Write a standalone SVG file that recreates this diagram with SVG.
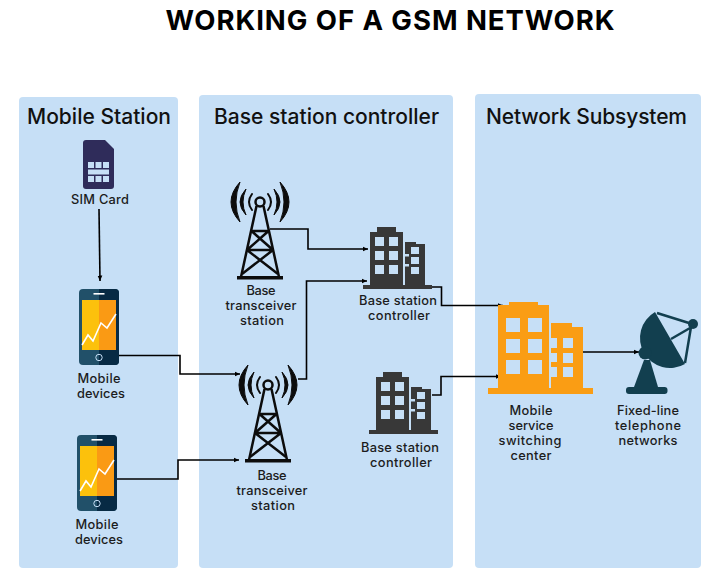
<svg xmlns="http://www.w3.org/2000/svg" width="720" height="577" viewBox="0 0 720 577">
<style>
.panel{fill:#c6dff6}
.t{font-family:"Inter","Noto Sans","DejaVu Sans",sans-serif;font-size:12.8px;font-weight:500;fill:#1c1c1c;text-anchor:middle}
.h{font-family:"Inter","Noto Sans","DejaVu Sans",sans-serif;font-size:21px;font-weight:500;fill:#111;text-anchor:middle}
.title{font-family:"Inter","Noto Sans","DejaVu Sans",sans-serif;font-size:27.5px;font-weight:700;fill:#000;text-anchor:middle}
.c{fill:none;stroke:#000;stroke-width:1.6}
.a{marker-end:url(#arrow)}
.tw{fill:none;stroke:#0c0c0c;stroke-width:2.5}
.wv{fill:#0c0c0c;stroke:#0c0c0c;stroke-width:1;stroke-linejoin:round}
.win{fill:#c6dff6}
</style>
<defs>
<marker id="arrow" markerUnits="userSpaceOnUse" markerWidth="7" markerHeight="7" refX="5.5" refY="3" orient="auto">
<path d="M0,0.6L5.5,3L0,5.4z" fill="#000"/>
</marker>
<symbol id="tower" overflow="visible" width="1" height="1">
<circle cx="0" cy="0" r="4.5" class="tw"/>
<path class="tw" d="M-3.5,4L-19,75M3.5,4L19,75"/>
<path class="tw" d="M-8.5,29L8.5,29M-8.5,29L13,48M8.500,29L-13,48M-13,48L13,48M-13,48L18,72M13,48L-18,72"/>
<path d="M-23,74H23V77.500H-23z" fill="#0c0c0c"/>
<path fill="none" stroke="#0c0c0c" stroke-width="2" stroke-linecap="round" d="M-8,-8Q-14,0-8,8M8,-8Q14,0 8,8"/>
<path class="wv" d="M-14,-13Q-26,0-14,13Q-20,0-14,-13zM14,-13Q26,0 14,13Q20,0 14,-13z"/>
<path class="wv" d="M-20,-20Q-38,0-20,20Q-28,0-20,-20zM20,-20Q38,0 20,20Q28,0 20,-20z"/>
</symbol>
<symbol id="bld" overflow="visible" width="1" height="1">
<path d="M0,58V5H7V0H26V5H33V58zM35,58V15H46V17H55V58z" fill="#383838"/>
<path d="M-7,58H62V62H-7z" fill="#383838"/>
<g class="win">
<rect x="5" y="10" width="9" height="9"/><rect x="19" y="10" width="9" height="9"/>
<rect x="5" y="24" width="9" height="9"/><rect x="19" y="24" width="9" height="9"/>
<rect x="5" y="38" width="9" height="9"/><rect x="19" y="38" width="9" height="9"/>
<rect x="41" y="20" width="8" height="7"/><rect x="41" y="30" width="8" height="7"/><rect x="41" y="40" width="8" height="7"/>
<rect x="35" y="27" width="4" height="2.500"/><rect x="35" y="37" width="4" height="2.500"/>
</g>
</symbol>
<symbol id="phone" overflow="visible" width="1" height="1">
<rect width="40" height="76" rx="4" fill="#215069"/>
<path d="M20,0H36a4,4 0 0 1 4,4V72a4,4 0 0 1-4,4H20z" fill="#072a44"/>
<rect x="3" y="11" width="17" height="50" fill="#fcc10c"/>
<rect x="20" y="11" width="17" height="50" fill="#fa9a14"/>
<path d="M3,56L9,46L14,52L22,34L28,39L37,25" fill="none" stroke="#fff" stroke-width="1.600"/>
<rect x="14.500" y="4" width="11" height="1.600" fill="#fff"/>
<circle cx="20" cy="68.500" r="3.200" fill="none" stroke="#c6dff6" stroke-width="1"/>
</symbol>
</defs>

<text x="390" y="30" class="title" textLength="449" lengthAdjust="spacing">WORKING OF A GSM NETWORK</text>

<rect class="panel" x="19" y="97" width="159" height="471" rx="4"/>
<rect class="panel" x="199" y="95" width="254" height="473" rx="4"/>
<rect class="panel" x="475" y="94" width="226" height="474" rx="4"/>
<text class="h" x="99" y="124" textLength="144" lengthAdjust="spacing">Mobile Station</text>
<text class="h" x="326.500" y="124" textLength="225" lengthAdjust="spacing">Base station controller</text>
<text class="h" x="586.500" y="124" textLength="201" lengthAdjust="spacing">Network Subsystem</text>

<g id="connectors">
<path class="c a" d="M99,209L100,281"/>
<path class="c a" d="M119,355.500H180V374H240"/>
<path class="c a" d="M117,479H178V460H239"/>
<path class="c a" d="M270,229H308V249H368"/>
<path class="c a" d="M298,379H306.500V281H367"/>
<path class="c a" d="M432,287H441.500V305.500H503"/>
<path class="c a" d="M432,395H441V376.500H501"/>
<path class="c a" d="M583,352H639"/>
</g>

<g id="sim-card">
<path d="M86,140H105L114,149V186a3,3 0 0 1-3,3H86a3,3 0 0 1-3-3V143a3,3 0 0 1 3-3z" fill="#2f2c5a"/>
<g fill="#c6dff6">
<rect x="88" y="162" width="6" height="6"/><rect x="95.500" y="162" width="6" height="6"/><rect x="103" y="162" width="6" height="6"/>
<rect x="88" y="169.500" width="21" height="5"/>
<rect x="88" y="176" width="6" height="6"/><rect x="95.500" y="176" width="6" height="6"/><rect x="103" y="176" width="6" height="6"/>
</g>
<text class="t" x="100" y="204" textLength="58" lengthAdjust="spacing">SIM Card</text>
</g>

<g id="mobile-1">
<use href="#phone" x="79" y="289"/>
<text class="t" x="99" y="383" textLength="43" lengthAdjust="spacing">Mobile</text>
<text class="t" x="101" y="398" textLength="48" lengthAdjust="spacing">devices</text>
</g>

<g id="mobile-2">
<use href="#phone" x="77" y="435"/>
<text class="t" x="97" y="529" textLength="43" lengthAdjust="spacing">Mobile</text>
<text class="t" x="99" y="544" textLength="48" lengthAdjust="spacing">devices</text>
</g>

<g id="bts-1">
<use href="#tower" x="260" y="202"/>
<text class="t" x="261" y="295" textLength="29" lengthAdjust="spacing">Base</text>
<text class="t" x="261" y="310" textLength="71" lengthAdjust="spacing">transceiver</text>
<text class="t" x="262" y="325" textLength="44" lengthAdjust="spacing">station</text>
</g>

<g id="bts-2">
<use href="#tower" x="268" y="385"/>
<text class="t" x="272" y="480" textLength="29" lengthAdjust="spacing">Base</text>
<text class="t" x="272" y="495" textLength="71" lengthAdjust="spacing">transceiver</text>
<text class="t" x="273" y="510" textLength="44" lengthAdjust="spacing">station</text>
</g>

<g id="bsc-1">
<use href="#bld" x="370" y="227"/>
<text class="t" x="398" y="305" textLength="78" lengthAdjust="spacing">Base station</text>
<text class="t" x="399" y="320" textLength="62" lengthAdjust="spacing">controller</text>
</g>

<g id="bsc-2">
<use href="#bld" x="376" y="372"/>
<text class="t" x="400" y="452" textLength="78" lengthAdjust="spacing">Base station</text>
<text class="t" x="401" y="467" textLength="62" lengthAdjust="spacing">controller</text>
</g>

<g id="msc">
<path d="M498,388V305H509V302H538V305H549V388zM551,388V323H572V327H583V388z" fill="#fa9d14"/>
<path d="M488,388H593V394H488z" fill="#fa9d14"/>
<g class="win">
<rect x="506" y="318" width="14" height="14"/><rect x="528" y="318" width="14" height="14"/>
<rect x="506" y="339" width="14" height="14"/><rect x="528" y="339" width="14" height="14"/>
<rect x="506" y="360" width="14" height="14"/><rect x="528" y="360" width="14" height="14"/>
<rect x="563" y="338" width="10" height="10"/><rect x="563" y="353" width="10" height="10"/><rect x="563" y="367" width="10" height="10"/>
<rect x="551" y="338" width="6" height="10"/><rect x="551" y="353" width="6" height="9"/><rect x="551" y="367" width="6" height="10"/>
</g>
<text class="t" x="531" y="415" textLength="43" lengthAdjust="spacing">Mobile</text>
<text class="t" x="531" y="430" textLength="45" lengthAdjust="spacing">service</text>
<text class="t" x="530" y="445" textLength="63" lengthAdjust="spacing">switching</text>
<text class="t" x="531" y="460" textLength="41" lengthAdjust="spacing">center</text>
</g>

<g id="fixed-line">
<path d="M655,312A30,30 0 0 0 685,364z" fill="#123f4f"/>
<path d="M657,313L689,323M685,363L691,327M671,339L690,328" fill="none" stroke="#123f4f" stroke-width="2.500"/>
<circle cx="693" cy="324" r="5" fill="#123f4f"/>
<circle cx="645" cy="353" r="6.500" fill="#123f4f"/>
<path d="M644,360H650L658,387H634z" fill="#123f4f"/>
<rect x="626" y="387" width="41.500" height="7" rx="3" fill="#123f4f"/>
<text class="t" x="648" y="415" textLength="62" lengthAdjust="spacing">Fixed-line</text>
<text class="t" x="648" y="430" textLength="66" lengthAdjust="spacing">telephone</text>
<text class="t" x="648" y="445" textLength="59" lengthAdjust="spacing">networks</text>
</g>
</svg>
